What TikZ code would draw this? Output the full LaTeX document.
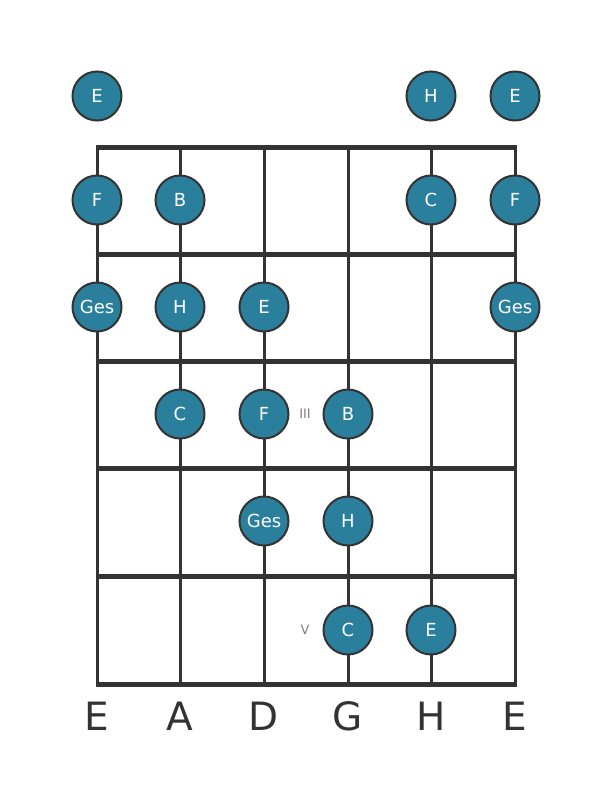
\documentclass[tikz,border=0pt]{standalone}
\usepackage{fontspec}
\setmainfont{DejaVu Sans}
\definecolor{notefill}{HTML}{2A7F9C}
\definecolor{linecol}{HTML}{333333}
\begin{document}
\begin{tikzpicture}[x=1pt,y=-1pt,
  note/.style={circle,draw=linecol,line width=2pt,fill=notefill,minimum size=49pt,inner sep=0pt,text=white,font=\fontsize{18}{18}\selectfont},
  fretline/.style={draw=linecol,line width=5pt},
  stringline/.style={draw=linecol,line width=3pt},
  strlabel/.style={font=\fontsize{39}{39}\selectfont,text=linecol},
  poslabel/.style={font=\fontsize{13}{13}\selectfont,text=gray}]
\useasboundingbox (0,0) rectangle (611,801);
% strings
\foreach \x/\n in {97/s1,180/s2,264/s3,348/s4,431/s5,515/s6}{
  \coordinate (\n t) at (\x,147);
  \coordinate (\n b) at (\x,684);
  \draw[stringline] (\n t) -- (\n b);
}
% frets
\foreach \y/\n in {147/f0,254/f1,361/f2,468/f3,576/f4,684/f5}{
  \coordinate (\n l) at (95.5,\y);
  \coordinate (\n r) at (516.5,\y);
  \draw[fretline] (\n l) -- (\n r);
}
% string labels
\node[strlabel] (l1) at (97,716) {E};
\node[strlabel] (l2) at (180,716) {A};
\node[strlabel] (l3) at (264,716) {D};
\node[strlabel] (l4) at (348,716) {G};
\node[strlabel] (l5) at (431,716) {H};
\node[strlabel] (l6) at (515,716) {E};
% notes
\node[note] (n01) at (97,96) {E};
\node[note] (n05) at (431,96) {H};
\node[note] (n06) at (515,96) {E};
\node[note] (n11) at (97,200) {F};
\node[note] (n12) at (180,200) {B};
\node[note] (n15) at (431,200) {C};
\node[note] (n16) at (515,200) {F};
\node[note] (n21) at (97,307) {Ges};
\node[note] (n22) at (180,307) {H};
\node[note] (n23) at (264,307) {E};
\node[note] (n26) at (515,307) {Ges};
\node[note] (n32) at (180,414) {C};
\node[note] (n33) at (264,414) {F};
\node[note] (n34) at (348,414) {B};
\node[note] (n43) at (264,521) {Ges};
\node[note] (n44) at (348,521) {H};
\node[note] (n54) at (348,630) {C};
\node[note] (n55) at (431,630) {E};
% position labels
\node[poslabel] (p3) at (305,414) {III};
\node[poslabel] (p5) at (305,630) {V};
\end{tikzpicture}
\end{document}
